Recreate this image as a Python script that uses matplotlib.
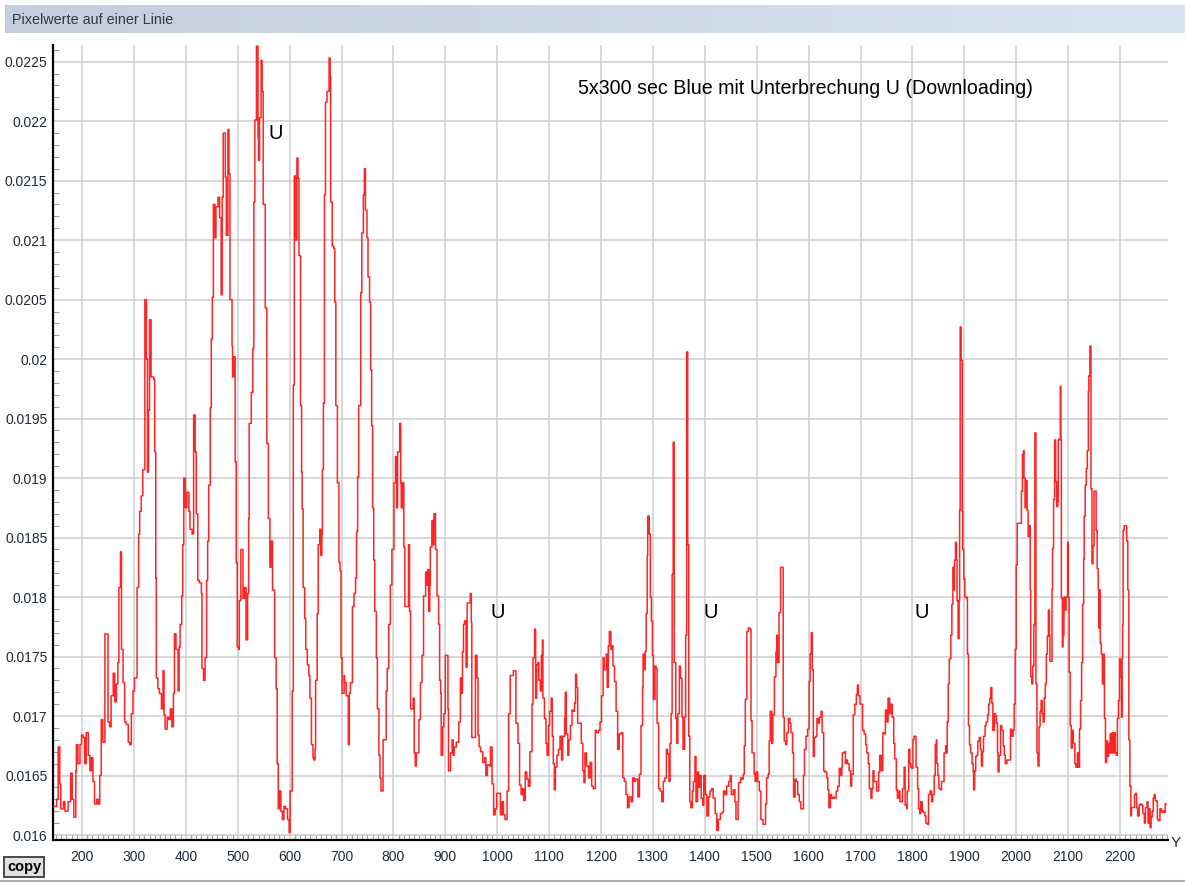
import numpy as np
import matplotlib
matplotlib.use("Agg")
import matplotlib.pyplot as plt
from matplotlib import font_manager
from matplotlib.lines import Line2D
from matplotlib.ticker import MultipleLocator, FuncFormatter

# pixel position along the line and the pixel value there (steps)
pos = [
    146, 151, 154, 157, 159, 164, 167, 173, 178, 181, 184, 188, 189, 192, 196, 199,
    202, 205, 208, 212, 215, 218, 221, 224, 228, 231, 234, 237, 240, 244, 248, 250,
    253, 256, 260, 263, 266, 269, 271, 274, 276, 279, 282, 285, 289, 292, 295, 298,
    301, 305, 306, 309, 311, 314, 317, 321, 324, 326, 328, 330, 333, 338, 340, 342,
    343, 346, 349, 353, 356, 358, 360, 364, 367, 370, 373, 376, 378, 381, 385, 387,
    389, 392, 394, 396, 399, 402, 406, 408, 412, 415, 418, 420, 423, 426, 430, 431,
    434, 437, 440, 442, 444, 447, 449, 451, 453, 456, 458, 462, 465, 468, 470, 472,
    476, 478, 481, 483, 485, 489, 490, 492, 495, 497, 499, 502, 503, 506, 510, 513,
    516, 519, 521, 522, 526, 529, 531, 533, 536, 539, 540, 542, 545, 547, 549, 553,
    556, 559, 562, 564, 567, 571, 574, 576, 578,
    580, 583, 586, 589, 592, 596, 599, 601, 604, 605, 607, 609, 612, 614, 616, 618,
    621, 623, 624, 626, 629, 631, 634, 637, 639, 640, 642, 645, 647, 649, 650, 653,
    655, 658, 660, 662, 663, 665, 667, 669, 672, 676, 678, 679, 682, 685, 687, 689,
    692, 695, 697, 699, 701, 705, 706, 709, 711, 713, 715, 717, 721, 724, 727, 729,
    731, 733, 737, 739, 742, 744, 746, 749, 751, 754, 756, 758, 760, 762, 764, 767,
    769, 772, 774, 776, 780, 783, 786, 788, 791, 794, 797, 801, 804, 806, 808, 812,
    814, 815, 818, 820, 822, 824, 826, 829, 831, 833, 836, 838, 840, 842, 844, 849,
    852, 855, 858, 862, 864, 866, 868, 870, 871, 874, 876, 878, 881, 884, 887, 889,
    891, 892, 895, 897, 900, 902, 905, 906, 910, 913, 915, 917, 921, 926, 929, 931,
    933, 935, 937, 940, 942, 945, 948, 950, 951, 955, 958, 961, 963, 965, 968, 972,
    976, 978, 981, 985, 987, 990, 993, 996, 999, 1003, 1006, 1009, 1012, 1015, 1019, 1022,
    1025, 1031, 1035, 1036, 1040,
    1043, 1046, 1049, 1051, 1054, 1057, 1060, 1063, 1067, 1069, 1072, 1074, 1076, 1078, 1080, 1083,
    1085, 1087, 1088, 1091, 1094, 1096, 1099, 1101, 1104, 1106, 1108, 1110, 1112, 1115, 1118, 1121,
    1124, 1126, 1130, 1131, 1133, 1136, 1138, 1141, 1144, 1146, 1149, 1151, 1153, 1155, 1158, 1162,
    1165, 1167, 1169, 1172, 1176, 1179, 1182, 1185, 1187, 1189, 1191, 1195, 1198, 1201, 1204, 1206,
    1210, 1212, 1214, 1216, 1219, 1221, 1223, 1226, 1229, 1232, 1235, 1239, 1242, 1245, 1248, 1251,
    1254, 1258, 1261, 1264, 1267, 1271, 1274, 1277, 1280, 1281, 1283, 1285, 1287, 1289, 1290, 1293,
    1295, 1297, 1299, 1301, 1304, 1306, 1308, 1311, 1314, 1317, 1320, 1323, 1326, 1328, 1331, 1333,
    1335, 1337, 1339, 1341, 1344, 1346, 1348, 1351, 1353, 1356, 1358, 1361, 1363, 1365, 1367, 1369,
    1371, 1373, 1376, 1378, 1381, 1383, 1386, 1388, 1390, 1393, 1396, 1398, 1401, 1404, 1407, 1410,
    1413, 1416, 1420, 1423, 1426, 1430, 1433, 1436, 1439, 1442, 1446, 1449, 1451, 1455, 1458,
    1460, 1464, 1465, 1469, 1471, 1474, 1476, 1478, 1481, 1484, 1487, 1489, 1491, 1493, 1495, 1497,
    1499, 1502, 1505, 1508, 1512, 1515, 1517, 1519, 1522, 1524, 1526, 1529, 1531, 1534, 1537, 1539,
    1540, 1543, 1546, 1549, 1551, 1553, 1556, 1558, 1561, 1564, 1566, 1569, 1571, 1574, 1576, 1579,
    1582, 1585, 1587, 1590, 1592, 1595, 1598, 1601, 1603, 1605, 1607, 1609, 1611, 1614, 1616, 1619,
    1621, 1624, 1626, 1629, 1631, 1635, 1637, 1639, 1642, 1644, 1647, 1649, 1653, 1656, 1659, 1661,
    1664, 1665, 1669, 1671, 1673, 1675, 1678, 1681, 1683, 1686, 1689, 1692, 1694, 1696, 1699, 1702,
    1704, 1707, 1710, 1712, 1715, 1717, 1720, 1722, 1724, 1726, 1729, 1731, 1735, 1737, 1740, 1743,
    1746, 1748, 1751, 1753, 1756, 1758, 1761, 1764, 1766, 1769, 1771, 1774, 1776, 1779, 1781, 1784,
    1786, 1789, 1790, 1793, 1795, 1797, 1799, 1801, 1803, 1805, 1807, 1810, 1812, 1814, 1816, 1819,
    1821, 1824, 1826, 1829, 1831, 1834, 1837, 1839, 1842, 1844, 1846, 1847, 1849, 1851, 1854, 1856,
    1859, 1861, 1864, 1865, 1867, 1869, 1871, 1874, 1876, 1878,
    1880, 1881, 1883, 1885, 1886, 1888, 1890, 1891, 1892, 1894, 1896, 1897, 1899, 1901, 1905, 1906,
    1908, 1910, 1912, 1915, 1917, 1918, 1920, 1922, 1924, 1926, 1929, 1931, 1933, 1935, 1937, 1940,
    1942, 1945, 1947, 1949, 1951, 1953, 1955, 1958, 1960, 1962, 1964, 1965, 1967, 1970, 1972, 1975,
    1977, 1979, 1982, 1985, 1989, 1991, 1994, 1996, 1998, 2000, 2002, 2005, 2008, 2010, 2012, 2014,
    2015, 2017, 2019, 2021, 2023, 2026, 2027, 2028, 2030, 2032, 2034, 2036, 2038, 2040, 2042, 2044,
    2046, 2048, 2050, 2052, 2054, 2056, 2058, 2060, 2062, 2064, 2065, 2067, 2069, 2070, 2072, 2074,
    2076, 2078, 2080, 2081, 2083, 2085, 2086, 2087, 2089, 2090, 2092, 2094, 2096, 2099, 2100, 2102,
    2104, 2106, 2108, 2110, 2113, 2115, 2118, 2120, 2122, 2124, 2126, 2128, 2130, 2131, 2133, 2135,
    2137, 2139, 2140, 2142, 2144, 2146, 2148, 2150, 2152, 2154, 2156, 2158, 2159, 2160, 2162, 2164,
    2166, 2168, 2170, 2172, 2174, 2176, 2178, 2180, 2181, 2183, 2185, 2187, 2189, 2191, 2193, 2195,
    2197, 2199, 2201, 2203, 2204, 2205, 2206, 2208, 2212, 2213, 2215, 2217, 2219, 2221, 2222, 2225,
    2228, 2230, 2232, 2234, 2237, 2239, 2242, 2244, 2247, 2249, 2252, 2254, 2256, 2258, 2260, 2262,
    2264, 2266, 2268, 2271, 2272, 2274, 2277, 2280, 2282, 2285, 2287, 2289,
]

value = [
    0.01624, 0.01630, 0.01674, 0.01643, 0.01622, 0.01628, 0.01620, 0.01628, 0.01652, 0.01630, 0.01615, 0.01654, 0.01676, 0.01660, 0.01676, 0.01684,
    0.01682, 0.01660, 0.01686, 0.01667, 0.01654, 0.01665, 0.01645, 0.01626, 0.01630, 0.01626, 0.01650, 0.01697, 0.01678, 0.01769, 0.01769, 0.01695,
    0.01691, 0.01717, 0.01736, 0.01712, 0.01727, 0.01745, 0.01808, 0.01838, 0.01756, 0.01728, 0.01695, 0.01693, 0.01678, 0.01676, 0.01702, 0.01721,
    0.01732, 0.01732, 0.01808, 0.01853, 0.01872, 0.01885, 0.01907, 0.02050, 0.02000, 0.01905, 0.01957, 0.02033, 0.01985, 0.01983, 0.01922, 0.01816,
    0.01732, 0.01723, 0.01719, 0.01706, 0.01738, 0.01701, 0.01689, 0.01699, 0.01697, 0.01706, 0.01691, 0.01719, 0.01769, 0.01756, 0.01721, 0.01758,
    0.01777, 0.01801, 0.01844, 0.01900, 0.01875, 0.01888, 0.01872, 0.01857, 0.01853, 0.01953, 0.01922, 0.01870, 0.01814, 0.01812, 0.01803, 0.01740,
    0.01730, 0.01749, 0.01814, 0.01847, 0.01894, 0.01959, 0.02017, 0.02052, 0.02130, 0.02102, 0.02128, 0.02136, 0.02119, 0.02054, 0.02136, 0.02190,
    0.02153, 0.02104, 0.02193, 0.02156, 0.02050, 0.02011, 0.01985, 0.02002, 0.01914, 0.01829, 0.01758, 0.01756, 0.01797, 0.01840, 0.01799, 0.01808,
    0.01764, 0.01803, 0.01866, 0.01946, 0.01972, 0.02009, 0.02132, 0.02201, 0.02263, 0.02186, 0.02167, 0.02203, 0.02251, 0.02225, 0.02130, 0.02043,
    0.01929, 0.01866, 0.01825, 0.01847, 0.01806, 0.01749, 0.01723, 0.01660, 0.01622,
    0.01637, 0.01620, 0.01613, 0.01624, 0.01622, 0.01613, 0.01602, 0.01637, 0.01637, 0.01721, 0.01978, 0.02154, 0.02100, 0.02169, 0.02152, 0.02087,
    0.01961, 0.01905, 0.01874, 0.01808, 0.01782, 0.01756, 0.01743, 0.01734, 0.01715, 0.01715, 0.01676, 0.01665, 0.01663, 0.01672, 0.01730, 0.01786,
    0.01844, 0.01857, 0.01835, 0.01853, 0.01907, 0.01963, 0.02138, 0.02216, 0.02225, 0.02253, 0.02238, 0.02132, 0.02095, 0.02093, 0.02048, 0.01961,
    0.01896, 0.01829, 0.01822, 0.01749, 0.01719, 0.01734, 0.01728, 0.01717, 0.01717, 0.01676, 0.01719, 0.01728, 0.01792, 0.01803, 0.01816, 0.01855,
    0.01901, 0.01961, 0.02056, 0.02106, 0.02138, 0.02160, 0.02125, 0.02102, 0.02069, 0.02048, 0.01991, 0.01944, 0.01875, 0.01831, 0.01788, 0.01749,
    0.01706, 0.01667, 0.01648, 0.01637, 0.01680, 0.01680, 0.01721, 0.01740, 0.01777, 0.01810, 0.01840, 0.01896, 0.01918, 0.01875, 0.01922, 0.01946,
    0.01896, 0.01875, 0.01896, 0.01842, 0.01792, 0.01792, 0.01792, 0.01844, 0.01788, 0.01706, 0.01706, 0.01715, 0.01669, 0.01658, 0.01669, 0.01697,
    0.01728, 0.01751, 0.01801, 0.01821, 0.01810, 0.01823, 0.01788, 0.01810, 0.01842, 0.01864, 0.01844, 0.01870, 0.01840, 0.01801, 0.01777, 0.01730,
    0.01719, 0.01667, 0.01691, 0.01702, 0.01751, 0.01751, 0.01706, 0.01654, 0.01669, 0.01680, 0.01667, 0.01674, 0.01678, 0.01695, 0.01732, 0.01719,
    0.01754, 0.01777, 0.01780, 0.01741, 0.01795, 0.01795, 0.01803, 0.01779, 0.01682, 0.01682, 0.01751, 0.01732, 0.01684, 0.01674, 0.01670, 0.01661,
    0.01665, 0.01650, 0.01659, 0.01658, 0.01674, 0.01643, 0.01617, 0.01622, 0.01635, 0.01635, 0.01617, 0.01628, 0.01617, 0.01613, 0.01637, 0.01702,
    0.01734, 0.01738, 0.01738, 0.01694, 0.01677,
    0.01642, 0.01634, 0.01639, 0.01629, 0.01653, 0.01647, 0.01641, 0.01670, 0.01710, 0.01749, 0.01773, 0.01715, 0.01743, 0.01745, 0.01730, 0.01721,
    0.01751, 0.01764, 0.01715, 0.01698, 0.01677, 0.01667, 0.01692, 0.01704, 0.01715, 0.01683, 0.01660, 0.01638, 0.01657, 0.01667, 0.01672, 0.01683,
    0.01663, 0.01683, 0.01698, 0.01720, 0.01685, 0.01667, 0.01680, 0.01692, 0.01705, 0.01704, 0.01711, 0.01735, 0.01724, 0.01694, 0.01694, 0.01677,
    0.01654, 0.01644, 0.01669, 0.01658, 0.01648, 0.01661, 0.01641, 0.01639, 0.01639, 0.01688, 0.01686, 0.01688, 0.01695, 0.01717, 0.01749, 0.01739,
    0.01752, 0.01724, 0.01759, 0.01771, 0.01756, 0.01759, 0.01742, 0.01729, 0.01704, 0.01672, 0.01685, 0.01686, 0.01648, 0.01645, 0.01634, 0.01623,
    0.01632, 0.01628, 0.01648, 0.01645, 0.01647, 0.01632, 0.01651, 0.01692, 0.01724, 0.01752, 0.01739, 0.01754, 0.01786, 0.01835, 0.01868, 0.01853,
    0.01800, 0.01780, 0.01751, 0.01714, 0.01742, 0.01740, 0.01694, 0.01639, 0.01637, 0.01628, 0.01645, 0.01648, 0.01672, 0.01668, 0.01645, 0.01677,
    0.01702, 0.01819, 0.01930, 0.01745, 0.01698, 0.01677, 0.01702, 0.01742, 0.01732, 0.01699, 0.01672, 0.01699, 0.01768, 0.02006, 0.01844, 0.01683,
    0.01628, 0.01623, 0.01637, 0.01645, 0.01666, 0.01628, 0.01653, 0.01640, 0.01650, 0.01631, 0.01625, 0.01650, 0.01634, 0.01616, 0.01632, 0.01637,
    0.01639, 0.01631, 0.01618, 0.01604, 0.01613, 0.01618, 0.01619, 0.01637, 0.01634, 0.01641, 0.01645, 0.01650, 0.01634, 0.01638, 0.01628,
    0.01613, 0.01628, 0.01644, 0.01648, 0.01647, 0.01651, 0.01675, 0.01714, 0.01771, 0.01774, 0.01773, 0.01696, 0.01669, 0.01669, 0.01651, 0.01645,
    0.01653, 0.01645, 0.01637, 0.01613, 0.01609, 0.01609, 0.01626, 0.01648, 0.01651, 0.01679, 0.01704, 0.01677, 0.01701, 0.01733, 0.01754, 0.01768,
    0.01745, 0.01787, 0.01825, 0.01825, 0.01699, 0.01679, 0.01676, 0.01686, 0.01698, 0.01694, 0.01686, 0.01669, 0.01632, 0.01647, 0.01645, 0.01634,
    0.01628, 0.01622, 0.01622, 0.01650, 0.01672, 0.01683, 0.01689, 0.01729, 0.01752, 0.01770, 0.01739, 0.01666, 0.01682, 0.01683, 0.01698, 0.01694,
    0.01699, 0.01704, 0.01686, 0.01654, 0.01653, 0.01648, 0.01638, 0.01623, 0.01634, 0.01631, 0.01632, 0.01631, 0.01637, 0.01641, 0.01656, 0.01650,
    0.01657, 0.01669, 0.01670, 0.01660, 0.01663, 0.01660, 0.01654, 0.01641, 0.01651, 0.01701, 0.01710, 0.01718, 0.01726, 0.01717, 0.01710, 0.01710,
    0.01688, 0.01685, 0.01676, 0.01669, 0.01660, 0.01639, 0.01631, 0.01639, 0.01654, 0.01645, 0.01645, 0.01637, 0.01653, 0.01667, 0.01654, 0.01686,
    0.01685, 0.01705, 0.01695, 0.01715, 0.01702, 0.01710, 0.01699, 0.01677, 0.01664, 0.01638, 0.01631, 0.01637, 0.01628, 0.01628, 0.01639, 0.01657,
    0.01625, 0.01622, 0.01637, 0.01672, 0.01660, 0.01657, 0.01656, 0.01680, 0.01683, 0.01683, 0.01657, 0.01639, 0.01622, 0.01618, 0.01628, 0.01620,
    0.01619, 0.01616, 0.01610, 0.01609, 0.01634, 0.01637, 0.01628, 0.01634, 0.01650, 0.01676, 0.01680, 0.01660, 0.01650, 0.01639, 0.01638, 0.01645,
    0.01645, 0.01669, 0.01675, 0.01669, 0.01695, 0.01727, 0.01748, 0.01768, 0.01794, 0.01825,
    0.01806, 0.01831, 0.01846, 0.01831, 0.01797, 0.01765, 0.01797, 0.01873, 0.02027, 0.01999, 0.01872, 0.01840, 0.01815, 0.01800, 0.01799, 0.01752,
    0.01692, 0.01676, 0.01669, 0.01660, 0.01653, 0.01638, 0.01654, 0.01666, 0.01667, 0.01679, 0.01682, 0.01672, 0.01658, 0.01670, 0.01683, 0.01692,
    0.01695, 0.01701, 0.01710, 0.01715, 0.01724, 0.01711, 0.01688, 0.01702, 0.01700, 0.01694, 0.01669, 0.01653, 0.01667, 0.01692, 0.01688, 0.01675,
    0.01667, 0.01660, 0.01663, 0.01663, 0.01689, 0.01683, 0.01688, 0.01710, 0.01756, 0.01827, 0.01862, 0.01862, 0.01862, 0.01889, 0.01920, 0.01923,
    0.01900, 0.01875, 0.01898, 0.01873, 0.01851, 0.01860, 0.01806, 0.01733, 0.01727, 0.01742, 0.01777, 0.01938, 0.01727, 0.01669, 0.01658, 0.01691,
    0.01704, 0.01713, 0.01702, 0.01695, 0.01715, 0.01727, 0.01752, 0.01767, 0.01789, 0.01768, 0.01746, 0.01746, 0.01806, 0.01841, 0.01882, 0.01932,
    0.01897, 0.01876, 0.01880, 0.01932, 0.01933, 0.01977, 0.01932, 0.01799, 0.01758, 0.01768, 0.01800, 0.01789, 0.01800, 0.01846, 0.01800, 0.01737,
    0.01692, 0.01673, 0.01688, 0.01677, 0.01660, 0.01657, 0.01669, 0.01657, 0.01689, 0.01713, 0.01745, 0.01794, 0.01832, 0.01868, 0.01894, 0.01908,
    0.01923, 0.01973, 0.01986, 0.02011, 0.01891, 0.01828, 0.01843, 0.01889, 0.01889, 0.01856, 0.01824, 0.01806, 0.01774, 0.01806, 0.01761, 0.01752,
    0.01727, 0.01752, 0.01698, 0.01661, 0.01679, 0.01666, 0.01677, 0.01669, 0.01685, 0.01669, 0.01686, 0.01669, 0.01686, 0.01669, 0.01667, 0.01698,
    0.01713, 0.01748, 0.01733, 0.01699, 0.01748, 0.01777, 0.01856, 0.01860, 0.01860, 0.01847, 0.01806, 0.01680, 0.01641, 0.01616, 0.01623, 0.01623,
    0.01634, 0.01635, 0.01623, 0.01616, 0.01625, 0.01626, 0.01625, 0.01618, 0.01610, 0.01623, 0.01628, 0.01610, 0.01622, 0.01606, 0.01615, 0.01620,
    0.01631, 0.01634, 0.01629, 0.01628, 0.01613, 0.01612, 0.01622, 0.01619, 0.01620, 0.01619, 0.01626, 0.01626,
]

x_ticks = [200, 300, 400, 500, 600, 700, 800, 900, 1000, 1100, 1200,
           1300, 1400, 1500, 1600, 1700, 1800, 1900, 2000, 2100, 2200]
y_ticks = [0.016, 0.0165, 0.017, 0.0175, 0.018, 0.0185, 0.019,
           0.0195, 0.02, 0.0205, 0.021, 0.0215, 0.022, 0.0225]

title = "Pixelwerte auf einer Linie"
note = "5x300 sec Blue mit Unterbrechung U (Downloading)"
# interruption markers: (position, value)
u_marks = [(574, 0.02190), (1000, 0.01787), (1412, 0.01787), (1817, 0.01787)]

plt.rcParams['font.family'] = ['Liberation Sans', 'DejaVu Sans']
names = {f.name for f in font_manager.fontManager.ttflist}
if 'Liberation Sans Narrow' in names:
    note_font, note_size, u_size = ['Liberation Sans Narrow', 'Liberation Sans'], 16, 16
else:
    note_font, note_size, u_size = ['Liberation Sans', 'DejaVu Sans'], 14.1, 14.5

W, H = 1185, 882
fig = plt.figure(figsize=(W / 100, H / 100), dpi=100)
fig.patch.set_facecolor('white')

# window title bar
tb = fig.add_axes([5 / W, 1 - 33 / H, 1 - 5 / W, 28 / H])
c0 = np.array([0xc3, 0xcf, 0xdd]) / 255
c1 = np.array([0xd6, 0xe3, 0xf0]) / 255
grad = np.linspace(0, 1, 256)[None, :, None]
tb.imshow(c0 + (c1 - c0) * grad, aspect='auto', extent=[0, 1, 0, 1])
tb.axis('off')
fig.text(12 / W, 1 - 20 / H, title, fontsize=10.4, color='#303a44', va='center', ha='left')

ax = fig.add_axes([53 / W, 1 - 840 / H, (1168 - 53) / W, (840 - 45) / H])
ax.plot(pos, value, color='#ff2424', lw=1.1, drawstyle='steps-post', zorder=3)

ax.set_xlim(144, 2292.5)
ax.set_ylim(0.015958, 0.02264)
ax.set_xticks(x_ticks)
ax.set_yticks(y_ticks)
ax.xaxis.set_minor_locator(MultipleLocator(10))
ax.yaxis.set_minor_locator(MultipleLocator(0.0001))
ax.yaxis.set_major_formatter(FuncFormatter(lambda v, p: '{:g}'.format(round(v, 5))))

ax.grid(True, which='major', color='#cdcdcd', lw=1.1, zorder=0)
ax.tick_params(which='both', direction='in', color='#9a9a9a', labelcolor='#1f2a36', labelsize=10)
ax.tick_params(which='major', length=0)
ax.tick_params(which='minor', length=4, width=0.8)
ax.tick_params(axis='x', pad=7)
ax.tick_params(axis='y', pad=4)

for side in ['top', 'right']:
    ax.spines[side].set_visible(False)
for side in ['left', 'bottom']:
    ax.spines[side].set_linewidth(1.6)
    ax.spines[side].set_color('black')

ax.text(1156, 0.022277, note, fontsize=note_size, family=note_font, va='center', ha='left')
for ux, uy in u_marks:
    ax.text(ux, uy, 'U', fontsize=u_size, family=note_font, va='center', ha='center')

fig.text(1176 / W, 1 - 843 / H, 'Y', fontsize=11, color='#1f2a36', va='center', ha='center')

fig.text(24 / W, 1 - 867 / H, 'copy', fontsize=10.5, weight='bold', va='center', ha='center',
         bbox=dict(boxstyle='square,pad=0.22', fc='#e1e1e1', ec='#4a4a4a', lw=1.4))

fig.add_artist(Line2D([0, 1], [1 - 880.5 / H] * 2, color='#b0b0b0', lw=1.5))

fig.savefig('out.png', dpi=100)
